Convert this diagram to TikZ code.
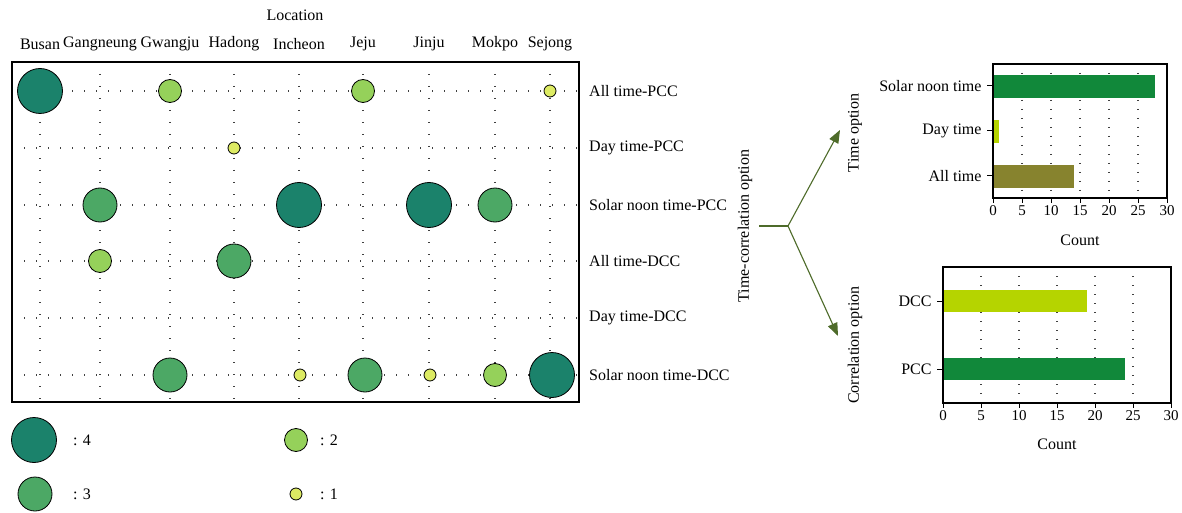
\documentclass[tikz,border=0pt]{standalone}
\usepackage{fontspec}
\setmainfont{Liberation Serif}
\usepackage{xcolor}
\usetikzlibrary{arrows.meta, calc}
\definecolor{bubone}{HTML}{DDEB63}
\definecolor{bubtwo}{HTML}{95D15A}
\definecolor{bubthree}{HTML}{4CA865}
\definecolor{bubfour}{HTML}{1B826B}
\definecolor{barsolar}{HTML}{11883A}
\definecolor{barday}{HTML}{B5D400}
\definecolor{barall}{HTML}{87832E}
\definecolor{branchgreen}{HTML}{4E6B2A}

\begin{document}
\begin{tikzpicture}[x=1pt, y=-1pt,
    lab/.style={font=\fontsize{16}{19}\selectfont, inner sep=1pt},
    ticklab/.style={font=\fontsize{15}{18}\selectfont, inner sep=2pt},
    gridline/.style={black!75, line width=1.4pt, dash pattern=on 1.4pt off 10.6pt},
    bargrid/.style={black!75, line width=1.2pt, dash pattern=on 1.2pt off 7.8pt},
    bubble/.style={circle, draw=black, line width=0.8pt, inner sep=0pt},
    bub1/.style={bubble, fill=bubone, minimum size=12pt},
    bub2/.style={bubble, fill=bubtwo, minimum size=23pt},
    bub3/.style={bubble, fill=bubthree, minimum size=34pt},
    bub4/.style={bubble, fill=bubfour, minimum size=45pt},
    branch/.style={draw=branchgreen, line width=1.1pt},
    optarrow/.style={branch, -{Triangle[length=13pt, width=10pt]}}]
  \useasboundingbox (0,0) rectangle (1182,513);

  % bubble chart
  \node[lab] (loc) at (295,15) {Location};
  \foreach \x/\name in {40/Busan, 100/Gangneung, 170/Gwangju, 234/Hadong, 299/Incheon,
                        363/Jeju, 429/Jinju, 495/Mokpo, 550/Sejong} {
    \draw[gridline] (\x,62) -- (\x,402);
    \node[lab] (col-\name) at (\x,44) {\name};
  }
  \foreach \y/\name in {91/All time-PCC, 148/Day time-PCC, 205/Solar noon time-PCC,
                        261/All time-DCC, 318/Day time-DCC, 375/Solar noon time-DCC} {
    \draw[gridline] (12,\y) -- (579,\y);
    \node[lab, anchor=west] (row-\y) at (588,\y) {\name};
  }
  \draw[line width=1.2pt] (12,62) rectangle (579,402);
  \foreach \x/\y/\s [count=\i] in {40/91/4, 170/91/2, 363/91/2, 550/91/1, 234/148/1,
      100/205/3, 299/205/4, 429/205/4, 495/205/3, 100/261/2, 234/261/3,
      170/375/3, 300/375/1, 365/375/3, 430/375/1, 495/375/2, 552/375/4}
    \node[bub\s] (bub\i) at (\x,\y) {};

  % legend
  \foreach \x/\y/\s/\lx in {34/440/4/72, 35/494/3/72, 296/440/2/319, 296/494/1/319} {
    \node[bub\s] (leg\s) at (\x,\y) {};
    \node[lab, anchor=west] (legtxt\s) at (\lx,\y) {: \s};
  }

  % options
  \node[lab, rotate=90, inner sep=7pt] (tco) at (745,226) {Time-correlation option};
  \coordinate (fork) at (788,226);
  \coordinate (timeend) at (840,130);
  \coordinate (corrend) at (838,336);
  \draw[branch] (tco.south) -- (fork);
  \draw[optarrow] (fork) -- (timeend);
  \draw[optarrow] (fork) -- (corrend);
  \node[lab, rotate=90] (timeopt) at (855,133) {Time option};
  \node[lab, rotate=90] (corropt) at (855,345) {Correlation option};

  % time option counts
  \foreach \v in {5,10,...,25}
    \draw[bargrid] (993+\v*5.8,64) -- (993+\v*5.8,198);
  \fill[barsolar] (993,75) rectangle (993+28*5.8,98);
  \fill[barday] (993,120) rectangle (993+1*5.8,143);
  \fill[barall] (993,165) rectangle (993+14*5.8,188);
  \draw[line width=1.2pt] (993,64) rectangle (1167,198);
  \foreach \v in {0,5,...,30}
    \draw[line width=1pt] (993+\v*5.8,198) -- ++(0,5) node[ticklab, below] {\v};
  \foreach \y/\t in {86/Solar noon time, 131/Day time, 176/All time}
    \draw[line width=1pt] (993,\y) -- ++(-6,0) node[lab, left=4pt] {\t};
  \node[lab] (tcount) at (1080,240) {Count};

  % correlation option counts
  \foreach \v in {5,10,...,25}
    \draw[bargrid] (943+\v*7.6,267) -- (943+\v*7.6,403);
  \fill[barday] (943,290) rectangle (943+19*7.6,312);
  \fill[barsolar] (943,358) rectangle (943+24*7.6,380);
  \draw[line width=1.2pt] (943,267) rectangle (1171,403);
  \foreach \v in {0,5,...,30}
    \draw[line width=1pt] (943+\v*7.6,403) -- ++(0,5) node[ticklab, below] {\v};
  \foreach \y/\t in {301/DCC, 369/PCC}
    \draw[line width=1pt] (943,\y) -- ++(-6,0) node[lab, left=4pt] {\t};
  \node[lab] (ccount) at (1057,444) {Count};
\end{tikzpicture}
\end{document}
